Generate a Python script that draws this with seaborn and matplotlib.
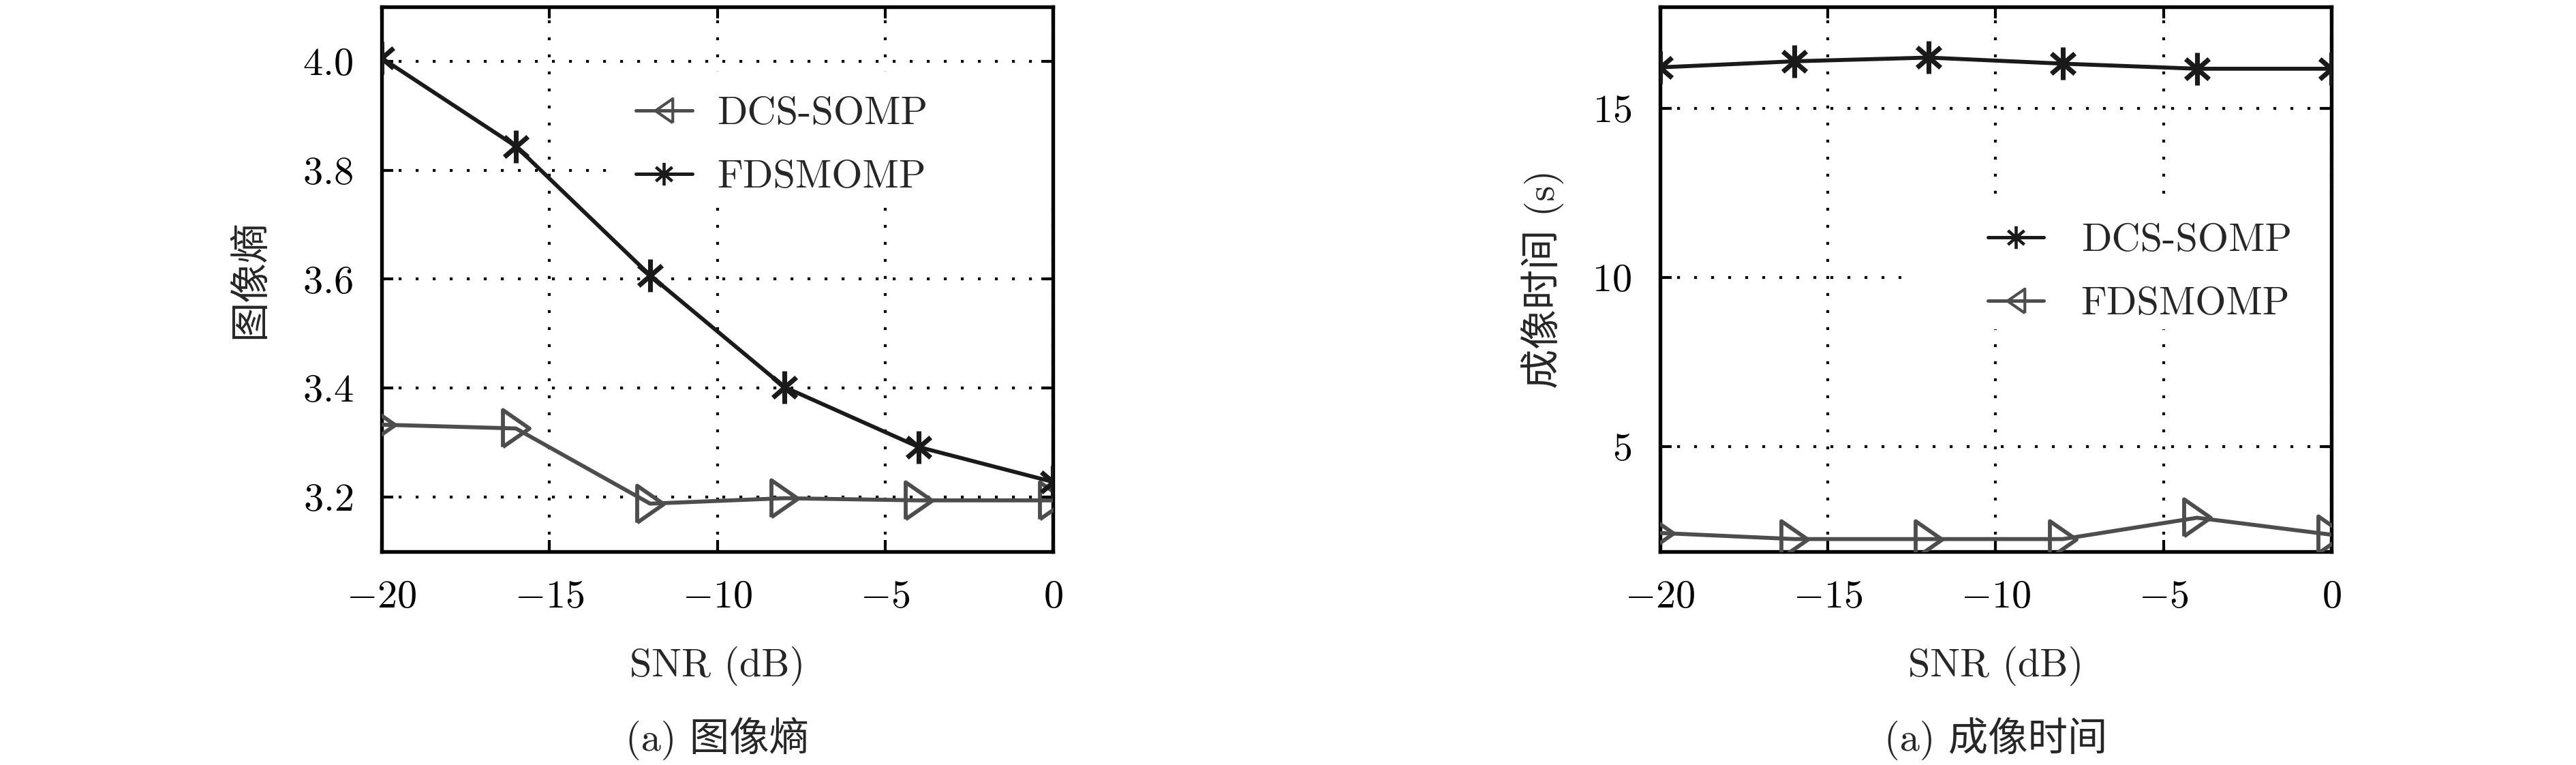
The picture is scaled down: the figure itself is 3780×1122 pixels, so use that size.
"""Image entropy and imaging time versus SNR for DCS-SOMP / FDSMOMP."""

import matplotlib

matplotlib.use("Agg")

import matplotlib.pyplot as plt
import seaborn as sns
from matplotlib.lines import Line2D
from matplotlib.patches import Rectangle
from matplotlib.path import Path

# --- data --------------------------------------------------------------
snr_db = [-20, -16, -12, -8, -4, 0]
snr_ticks = [-20, -15, -10, -5, 0]

entropy_dcs_somp = [3.333, 3.326, 3.188, 3.198, 3.194, 3.194]
entropy_fdsmomp = [4.006, 3.844, 3.607, 3.402, 3.292, 3.228]
entropy_ticks = [3.2, 3.4, 3.6, 3.8, 4.0]

# right panel: the starred curve is labelled DCS-SOMP in its legend
time_dcs_somp = [16.21, 16.39, 16.50, 16.32, 16.17, 16.17]
time_fdsmomp = [2.45, 2.27, 2.27, 2.27, 2.90, 2.40]
time_ticks = [5, 10, 15]

# --- style ---------------------------------------------------------------
sns.set_theme(style="ticks")
plt.rcParams["font.family"] = ["cmr10", "Noto Sans CJK SC"]
plt.rcParams["mathtext.fontset"] = "cm"
plt.rcParams["axes.formatter.use_mathtext"] = True
plt.rcParams["font.size"] = 14

DARK = "#1a1a1a"
GRAY = "#4d4d4d"

STAR = Path(
    [(0, -1), (0, 1), (-0.72, -0.62), (0.72, 0.62), (-0.72, 0.62), (0.72, -0.62)],
    [Path.MOVETO, Path.LINETO, Path.MOVETO, Path.LINETO, Path.MOVETO, Path.LINETO],
)
TRI_RIGHT = [(-0.72, -1), (0.72, 0), (-0.72, 1), (-0.72, -1)]
TRI_LEFT = [(0.72, -1), (-0.72, 0), (0.72, 1), (0.72, -1)]


def star_style(color=DARK):
    return dict(color=color, lw=1.4, marker=STAR, markersize=11.5,
                markerfacecolor="none", markeredgecolor=color, markeredgewidth=1.7)


def tri_style(color=GRAY):
    return dict(color=color, lw=1.4, marker=TRI_RIGHT, markersize=13,
                markerfacecolor="none", markeredgecolor=color, markeredgewidth=1.4)


def legend_handle(kind):
    if kind == "star":
        return Line2D([], [], color=DARK, lw=1.2, marker=STAR, markersize=8,
                      markerfacecolor="none", markeredgecolor=DARK, markeredgewidth=1.1)
    return Line2D([], [], color=GRAY, lw=1.2, marker=TRI_LEFT, markersize=8.5,
                  markerfacecolor="none", markeredgecolor=GRAY, markeredgewidth=1.0)


def style_axes(ax, yticks, ylim):
    ax.set_xlim(-20, 0)
    ax.set_ylim(*ylim)
    ax.set_xticks(snr_ticks)
    ax.set_yticks(yticks)
    ax.grid(True, color="black", linestyle=(0, (1, 5)), linewidth=1.0)
    ax.set_axisbelow(True)
    ax.tick_params(direction="in", length=4, width=1.0, top=True, right=True,
                   labelsize=14, pad=10, colors="black")
    for spine in ax.spines.values():
        spine.set_visible(True)
        spine.set_linewidth(1.3)
        spine.set_color("black")


fig = plt.figure(figsize=(12.6, 3.74), dpi=300)
ax_left = fig.add_axes([0.14815, 0.27897, 0.26058, 0.71212])
ax_right = fig.add_axes([0.64444, 0.27897, 0.26058, 0.71212])

# --- (a) image entropy ---------------------------------------------------
sns.lineplot(x=snr_db, y=entropy_dcs_somp, ax=ax_left, zorder=3, **tri_style())
sns.lineplot(x=snr_db, y=entropy_fdsmomp, ax=ax_left, zorder=3, **star_style())
style_axes(ax_left, entropy_ticks, (3.1, 4.1))
ax_left.set_ylabel("图像熵", fontsize=14)
ax_left.yaxis.set_label_coords(-0.168, 0.5)
ax_left.add_patch(Rectangle((0.352, 0.637), 0.648, 0.244, transform=ax_left.transAxes,
                            facecolor="white", edgecolor="none", zorder=1.5))
ax_left.legend([legend_handle("tri"), legend_handle("star")], ["DCS-SOMP", "FDSMOMP"],
               loc="center left", bbox_to_anchor=(0.379, 0.745), frameon=False,
               borderpad=0, borderaxespad=0, handlelength=1.41, handletextpad=0.63,
               labelspacing=0.7, fontsize=14)

# --- (a) imaging time ----------------------------------------------------
sns.lineplot(x=snr_db, y=time_dcs_somp, ax=ax_right, zorder=3, **star_style())
sns.lineplot(x=snr_db, y=time_fdsmomp, ax=ax_right, zorder=3, **tri_style())
style_axes(ax_right, time_ticks, (1.9, 18.0))
ax_right.set_ylabel("成像时间 (s)", fontsize=14)
ax_right.yaxis.set_label_coords(-0.143, 0.5)
ax_right.add_patch(Rectangle((0.359, 0.408), 0.641, 0.248, transform=ax_right.transAxes,
                             facecolor="white", edgecolor="none", zorder=1.5))
ax_right.legend([legend_handle("star"), legend_handle("tri")], ["DCS-SOMP", "FDSMOMP"],
                loc="center left", bbox_to_anchor=(0.488, 0.512), frameon=False,
                borderpad=0, borderaxespad=0, handlelength=1.41, handletextpad=0.94,
                labelspacing=0.7, fontsize=14)

for ax, caption in [(ax_left, "(a) 图像熵"), (ax_right, "(a) 成像时间")]:
    ax.set_xlabel("SNR (dB)", fontsize=14)
    ax.xaxis.set_label_coords(0.5, -0.21)
    ax.xaxis.label.set_va("center")
    ax.text(0.5, -0.343, caption, transform=ax.transAxes, ha="center", va="center",
            fontsize=14)

fig.savefig("out.png", dpi=300, facecolor="white")
